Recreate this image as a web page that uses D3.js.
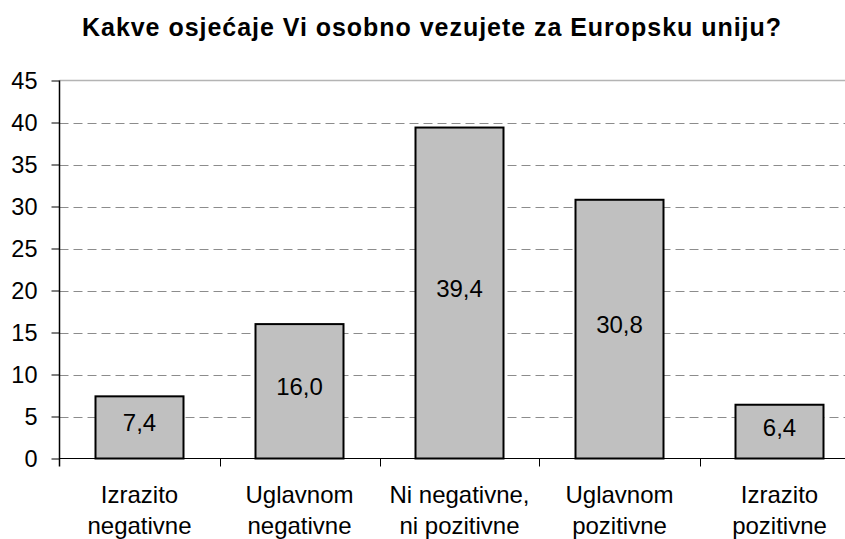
<!DOCTYPE html>
<html>
<head>
<meta charset="utf-8">
<script src="https://cdn.jsdelivr.net/npm/d3@7"></script>
<style>
  html, body { margin: 0; padding: 0; background: #fff; }
  svg { display: block; }
  text { font-family: "Liberation Sans", Arial, sans-serif; fill: #000; }
</style>
</head>
<body>
<svg id="chart" width="845" height="539"></svg>
<script>
const title = "Kakve osjećaje Vi osobno vezujete za Europsku uniju?";
const categories = [
  ["Izrazito", "negativne"],
  ["Uglavnom", "negativne"],
  ["Ni negativne,", "ni pozitivne"],
  ["Uglavnom", "pozitivne"],
  ["Izrazito", "pozitivne"]
];
const values = [7.4, 16.0, 39.4, 30.8, 6.4];
const yTicks = [0, 5, 10, 15, 20, 25, 30, 35, 40, 45];

const svg = d3.select("#chart");
const W = 845, H = 539;
const mLeft = 59.5, mRight = 859.5, mTop = 80.5, mBottom = 458.5;

svg.append("rect").attr("width", W).attr("height", H).attr("fill", "#fff");

const x = d3.scaleBand()
  .domain(d3.range(categories.length))
  .range([mLeft, mRight])
  .paddingInner(0.45)
  .paddingOuter(0.225);

const y = d3.scaleLinear().domain([0, 45]).range([mBottom, mTop]);

// title
svg.append("text")
  .attr("x", 431.5).attr("y", 36)
  .attr("text-anchor", "middle")
  .attr("font-size", "25px")
  .attr("font-weight", "bold")
  .attr("textLength", 699)
  .attr("lengthAdjust", "spacing")
  .text(title);

// gridlines
svg.append("g").selectAll("line")
  .data(yTicks.filter(t => t > 0 && t < 45))
  .join("line")
  .attr("x1", mLeft).attr("x2", mRight)
  .attr("y1", d => Math.round(y(d)) + 0.5).attr("y2", d => Math.round(y(d)) + 0.5)
  .attr("stroke", "#8c8c8c").attr("stroke-width", 1)
  .attr("stroke-dasharray", "9,5");

// top border line at 45
svg.append("line")
  .attr("x1", mLeft).attr("x2", mRight)
  .attr("y1", y(45)).attr("y2", y(45))
  .attr("stroke", "#b4b4b4").attr("stroke-width", 1.5);

// bars
svg.append("g").selectAll("rect")
  .data(values)
  .join("rect")
  .attr("x", (d, i) => x(i))
  .attr("y", d => y(d))
  .attr("width", x.bandwidth())
  .attr("height", d => y(0) - y(d))
  .attr("fill", "#c0c0c0")
  .attr("stroke", "#000").attr("stroke-width", 2);

// value labels
const fmt = d => d3.format(".1f")(d).replace(".", ",");
svg.append("g").selectAll("text")
  .data(values)
  .join("text")
  .attr("x", (d, i) => x(i) + x.bandwidth() / 2)
  .attr("y", d => (y(d) + y(0)) / 2 + 4)
  .attr("text-anchor", "middle")
  .attr("font-size", "24px")
  .text(fmt);

// y axis
const yAxis = d3.axisLeft(y).tickValues(yTicks).tickSize(8).tickPadding(14).tickFormat(d3.format("d"));
const gy = svg.append("g").attr("transform", `translate(${mLeft},0)`).call(yAxis);
gy.select(".domain").remove();
gy.selectAll(".tick line").attr("stroke", "#000");
gy.selectAll(".tick text")
  .attr("font-size", "23.5px")
  .attr("font-family", "Liberation Sans, Arial, sans-serif")
  .attr("fill", "#000")
  .attr("dy", null)
  .attr("y", 7.6);
svg.append("line")
  .attr("x1", mLeft).attr("x2", mLeft)
  .attr("y1", mTop).attr("y2", mBottom + 8)
  .attr("stroke", "#000").attr("stroke-width", 1.5);

// x axis baseline and ticks
const xb = d3.scaleLinear().domain([0, categories.length]).range([mLeft, mRight]);
svg.append("line")
  .attr("x1", mLeft).attr("x2", mRight)
  .attr("y1", mBottom).attr("y2", mBottom)
  .attr("stroke", "#000").attr("stroke-width", 1);
svg.append("g").selectAll("line")
  .data(d3.range(1, categories.length + 1))
  .join("line")
  .attr("x1", d => Math.round(xb(d)) + 0.5).attr("x2", d => Math.round(xb(d)) + 0.5)
  .attr("y1", mBottom).attr("y2", mBottom + 8)
  .attr("stroke", "#000");

// category labels
const cl = svg.append("g").selectAll("text")
  .data(categories)
  .join("text")
  .attr("text-anchor", "middle")
  .attr("font-size", "24px");
cl.each(function(d, i) {
  const t = d3.select(this);
  d.forEach((line, j) => {
    t.append("tspan")
      .attr("x", x(i) + x.bandwidth() / 2)
      .attr("y", 503 + j * 31)
      .text(line);
  });
});
</script>
</body>
</html>
